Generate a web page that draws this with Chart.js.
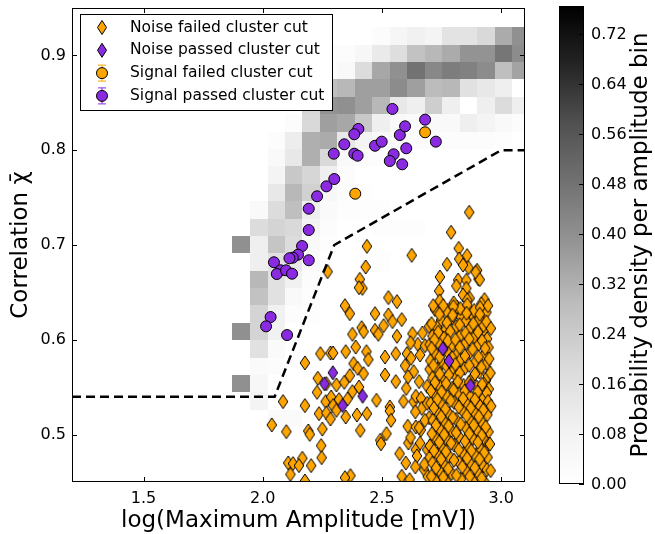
<!DOCTYPE html>
<html>
<head>
<meta charset="utf-8">
<script src="https://cdn.jsdelivr.net/npm/chart.js@4.4.1/dist/chart.umd.min.js"></script>
<style>
  html, body { margin: 0; padding: 0; background: #fff; }
  canvas { display: block; }
</style>
</head>
<body>
<canvas id="chart" width="655" height="534"></canvas>
<script>
// axis ticks
const xTicks = [1.5, 2.0, 2.5, 3.0];
const yTicks = [0.5, 0.6, 0.7, 0.8, 0.9];
const cbTicks = [0, 0.08, 0.16, 0.24, 0.32, 0.40, 0.48, 0.56, 0.64, 0.72];
const cbMax = 0.765;

// signal histogram (probability density per amplitude bin), rows top -> bottom
const histXEdges = [1.873, 1.946, 2.020, 2.093, 2.166, 2.240, 2.313, 2.386, 2.460, 2.533,
  2.606, 2.680, 2.753, 2.826, 2.900, 2.973, 3.046, 3.120];
const histYEdges = [0.9296, 0.9113, 0.8929, 0.8746, 0.8563, 0.8379, 0.8196, 0.8013, 0.7829,
  0.7646, 0.7463, 0.7279, 0.7096, 0.6913, 0.6729, 0.6546, 0.6363, 0.6179, 0.5996, 0.5813,
  0.5629, 0.5446, 0.5263, 0.5079];
const histDensity = [
  [0, 0, 0, 0, 0, 0, 0, 0, 0.02, 0.06, 0.09, 0.07, 0.15, 0.15, 0.19, 0.33, 0.40],
  [0, 0, 0, 0, 0, 0.02, 0.02, 0.05, 0.12, 0.17, 0.27, 0.30, 0.33, 0.39, 0.39, 0.47, 0.41],
  [0, 0, 0, 0, 0.01, 0.02, 0.04, 0.18, 0.34, 0.40, 0.48, 0.42, 0.45, 0.44, 0.41, 0.28, 0.35],
  [0, 0, 0, 0, 0.10, 0.28, 0.30, 0.36, 0.36, 0.41, 0.36, 0.29, 0.30, 0.16, 0.13, 0.10, 0],
  [0, 0, 0, 0, 0.20, 0.39, 0.40, 0.36, 0.30, 0.13, 0.10, 0.23, 0.10, 0, 0.10, 0.18, 0.10],
  [0, 0, 0, 0.02, 0.19, 0.36, 0.34, 0.25, 0.10, 0.04, 0.03, 0.04, 0.04, 0.10, 0.07, 0.04, 0.02],
  [0, 0, 0.02, 0.11, 0.32, 0.33, 0.13, 0.07, 0.04, 0.03, 0.02, 0.02, 0.02, 0.02, 0.02, 0.01, 0],
  [0, 0, 0.04, 0.13, 0.32, 0.19, 0.04, 0.02, 0.02, 0.01, 0, 0, 0, 0, 0, 0, 0],
  [0, 0, 0.07, 0.25, 0.20, 0.10, 0.02, 0, 0, 0, 0, 0, 0, 0, 0, 0, 0],
  [0, 0, 0.13, 0.30, 0.22, 0.05, 0.02, 0.01, 0, 0, 0, 0, 0, 0, 0, 0, 0],
  [0, 0.04, 0.18, 0.28, 0.10, 0.03, 0.01, 0.01, 0.01, 0, 0, 0, 0, 0, 0, 0, 0],
  [0, 0.18, 0.21, 0.19, 0.07, 0.02, 0, 0, 0.01, 0.01, 0.01, 0, 0, 0, 0, 0, 0],
  [0.40, 0.10, 0.26, 0.18, 0.04, 0.01, 0, 0, 0, 0, 0, 0, 0, 0, 0, 0, 0],
  [0, 0.10, 0.16, 0.13, 0.03, 0, 0, 0.01, 0.01, 0, 0, 0, 0, 0, 0, 0, 0],
  [0, 0.30, 0.16, 0.09, 0.02, 0, 0, 0, 0, 0, 0, 0, 0, 0, 0, 0, 0],
  [0, 0.27, 0.16, 0.04, 0.01, 0, 0, 0, 0, 0, 0, 0, 0, 0, 0, 0, 0],
  [0, 0.21, 0.09, 0.02, 0.01, 0, 0, 0, 0, 0, 0, 0, 0, 0, 0, 0, 0],
  [0.40, 0.21, 0.09, 0, 0, 0, 0, 0, 0, 0, 0, 0, 0, 0, 0, 0, 0],
  [0, 0.16, 0.03, 0, 0, 0, 0, 0, 0, 0, 0, 0, 0, 0, 0, 0, 0],
  [0, 0.03, 0.02, 0, 0, 0, 0, 0, 0, 0, 0, 0, 0, 0, 0, 0, 0],
  [0.40, 0.05, 0, 0, 0, 0, 0, 0, 0, 0, 0, 0, 0, 0, 0, 0, 0],
  [0, 0.07, 0, 0, 0, 0, 0, 0, 0, 0, 0, 0, 0, 0, 0, 0, 0],
  [0, 0, 0.03, 0.03, 0, 0, 0, 0, 0, 0, 0, 0, 0, 0, 0, 0, 0]
];

// cluster cut boundary
const cutX = [1.2, 2.05, 2.3, 3.0, 3.1];
const cutY = [0.54, 0.54, 0.70, 0.80, 0.80];

// events [log amplitude, correlation]
const signalPassed = [
  [2.544, 0.8435], [2.401, 0.8224], [2.384, 0.8168], [2.342, 0.8062], [2.298, 0.7963],
  [2.384, 0.7963], [2.398, 0.7942], [2.471, 0.8047], [2.499, 0.8090], [2.575, 0.8160],
  [2.597, 0.8252], [2.681, 0.8322], [2.726, 0.8090], [2.602, 0.8020], [2.549, 0.7957],
  [2.533, 0.7886], [2.585, 0.7851], [2.300, 0.7696], [2.267, 0.7619], [2.228, 0.7514],
  [2.193, 0.7383], [2.193, 0.7158], [2.165, 0.6989], [2.148, 0.6898], [2.126, 0.6866],
  [2.112, 0.6860], [2.193, 0.6839], [2.047, 0.6818], [2.075, 0.6733], [2.059, 0.6694],
  [2.098, 0.6733], [2.123, 0.6697], [2.033, 0.6240], [2.014, 0.6142], [2.102, 0.6050]
];
const signalFailed = [[2.681, 0.8189], [2.388, 0.7541]];
const noisePassed = [
  [2.294, 0.5653], [2.259, 0.5536], [2.335, 0.5307], [2.419, 0.5405],
  [2.755, 0.5906], [2.781, 0.5776], [2.871, 0.5516]
];
const noiseFailedSparse = [
  [2.437, 0.6986], [2.625, 0.6891], [2.432, 0.6768], [2.272, 0.6719], [2.407, 0.6638],
  [2.418, 0.6543], [2.404, 0.6550], [2.527, 0.6445], [2.563, 0.6403], [2.345, 0.6360],
  [2.365, 0.6276], [2.471, 0.6276], [2.527, 0.6262], [2.583, 0.6213], [2.507, 0.6149],
  [2.544, 0.6192], [2.471, 0.6100], [2.485, 0.6058], [2.415, 0.6128], [2.376, 0.6058],
  [2.423, 0.6086], [2.563, 0.6037], [2.628, 0.6065], [2.390, 0.5924], [2.435, 0.5875],
  [2.348, 0.5875], [2.242, 0.5854], [2.284, 0.5861], [2.295, 0.5861], [2.177, 0.5756],
  [2.513, 0.5819], [2.558, 0.5854], [2.605, 0.5854], [2.622, 0.5805], [2.381, 0.5749],
  [2.398, 0.5699], [2.423, 0.5643], [2.443, 0.5791], [2.513, 0.5629], [2.558, 0.5559],
  [2.597, 0.5727], [2.633, 0.5664], [2.231, 0.5594], [2.228, 0.5446], [2.267, 0.5538],
  [2.309, 0.5524], [2.342, 0.5552], [2.365, 0.5622], [2.376, 0.5453], [2.404, 0.5502],
  [2.264, 0.5348], [2.287, 0.5397], [2.320, 0.5369], [2.356, 0.5376], [2.477, 0.5362],
  [2.533, 0.5292], [2.533, 0.5249], [2.633, 0.5348], [2.642, 0.5404], [2.085, 0.5348],
  [2.177, 0.5306], [2.236, 0.5221], [2.267, 0.5228], [2.295, 0.5306], [2.284, 0.5165],
  [2.250, 0.5059], [2.309, 0.5256], [2.348, 0.5186], [2.395, 0.5207], [2.437, 0.5221],
  [2.538, 0.5151], [2.608, 0.5088], [2.642, 0.5081], [2.038, 0.5102], [2.099, 0.5031],
  [2.191, 0.5038], [2.197, 0.5003], [2.409, 0.5045], [2.493, 0.4940], [2.519, 0.5010],
  [2.245, 0.4884], [2.574, 0.4799], [2.611, 0.4912], [2.642, 0.4841], [2.247, 0.4757],
  [2.166, 0.4750], [2.107, 0.4701], [2.127, 0.4694], [2.203, 0.4673], [2.152, 0.4673],
  [2.116, 0.4581], [2.368, 0.4567], [2.345, 0.4546], [2.177, 0.4511], [2.583, 0.4560],
  [2.616, 0.4525], [2.677, 0.4630], [2.692, 0.4557], [2.647, 0.4775], [2.663, 0.5049],
  [2.496, 0.4903], [2.650, 0.5952], [2.681, 0.5938], [2.602, 0.5488], [2.656, 0.5559],
  [2.664, 0.5383], [2.656, 0.5073], [2.678, 0.4687], [2.714, 0.4926], [2.670, 0.6072],
  [2.698, 0.6142], [2.690, 0.4841], [2.698, 0.5179], [2.667, 0.5277],
  [2.620, 0.5970], [2.660, 0.5840], [2.700, 0.5690], [2.610, 0.5610], [2.690, 0.5510],
  [2.640, 0.5240], [2.690, 0.5330], [2.620, 0.4970], [2.660, 0.4910], [2.700, 0.4760],
  [2.640, 0.4660], [2.600, 0.4700], [2.680, 0.5150], [2.700, 0.5950], [2.590, 0.5350]
];
const noiseFailedUpper = [
  [2.866, 0.7345], [2.790, 0.7134], [2.822, 0.6965], [2.857, 0.6888], [2.773, 0.6796],
  [2.743, 0.6663], [2.740, 0.6515], [2.824, 0.6853], [2.863, 0.6761], [2.905, 0.6642],
  [2.899, 0.6733], [2.930, 0.6424], [2.930, 0.6276], [2.925, 0.6093], [2.840, 0.6789],
  [2.893, 0.6712], [2.910, 0.6635], [2.820, 0.6631], [2.812, 0.6568], [2.854, 0.6628],
  [2.854, 0.6543], [2.840, 0.6473], [2.868, 0.6438], [2.899, 0.6276], [2.776, 0.6311],
  [2.790, 0.6241], [2.815, 0.6346], [2.832, 0.6241], [2.860, 0.6332], [2.885, 0.6241]
];
const noiseFailedCore = [
  [2.742, 0.641], [2.801, 0.639], [2.858, 0.642], [2.917, 0.638],
  [2.722, 0.632], [2.771, 0.630], [2.829, 0.633], [2.887, 0.631], [2.938, 0.629],
  [2.748, 0.621], [2.793, 0.623], [2.852, 0.620], [2.908, 0.622],
  [2.731, 0.613], [2.768, 0.611], [2.812, 0.614], [2.869, 0.612], [2.926, 0.615],
  [2.712, 0.604], [2.759, 0.602], [2.830, 0.605], [2.888, 0.603], [2.941, 0.601],
  [2.739, 0.596], [2.792, 0.594], [2.851, 0.597], [2.905, 0.595], [2.947, 0.592],
  [2.721, 0.586], [2.772, 0.588], [2.815, 0.585], [2.870, 0.587], [2.928, 0.584],
  [2.703, 0.578], [2.752, 0.576], [2.829, 0.579], [2.892, 0.577], [2.938, 0.575],
  [2.733, 0.569], [2.791, 0.567], [2.848, 0.570], [2.909, 0.566],
  [2.712, 0.560], [2.762, 0.558], [2.812, 0.561], [2.877, 0.559], [2.936, 0.557],
  [2.741, 0.551], [2.795, 0.549], [2.842, 0.552], [2.899, 0.550], [2.948, 0.548],
  [2.722, 0.542], [2.773, 0.540], [2.822, 0.543], [2.868, 0.541], [2.927, 0.539],
  [2.704, 0.533], [2.751, 0.531], [2.802, 0.534], [2.857, 0.532], [2.911, 0.530],
  [2.733, 0.524], [2.781, 0.522], [2.838, 0.525], [2.889, 0.523], [2.942, 0.521],
  [2.713, 0.515], [2.762, 0.513], [2.811, 0.516], [2.872, 0.514], [2.921, 0.512],
  [2.742, 0.506], [2.793, 0.504], [2.851, 0.507], [2.898, 0.505], [2.947, 0.503],
  [2.724, 0.497], [2.772, 0.495], [2.823, 0.498], [2.881, 0.496], [2.932, 0.494],
  [2.701, 0.488], [2.752, 0.486], [2.803, 0.489], [2.862, 0.487], [2.913, 0.485],
  [2.734, 0.479], [2.783, 0.477], [2.841, 0.480], [2.892, 0.478], [2.943, 0.476],
  [2.712, 0.470], [2.761, 0.468], [2.822, 0.471], [2.871, 0.469], [2.924, 0.467],
  [2.743, 0.461], [2.792, 0.459], [2.852, 0.462], [2.903, 0.460],
  [2.723, 0.452], [2.772, 0.450], [2.831, 0.453], [2.882, 0.451], [2.934, 0.449]
];
const noiseFailedCoreFill = [
  [2.715, 0.636], [2.757, 0.636], [2.800, 0.635], [2.858, 0.637], [2.912, 0.634], [2.945, 0.636],
  [2.741, 0.627], [2.796, 0.626], [2.855, 0.628], [2.910, 0.627],
  [2.708, 0.617], [2.772, 0.618], [2.826, 0.616], [2.883, 0.617], [2.938, 0.619],
  [2.736, 0.608], [2.786, 0.609], [2.850, 0.607], [2.903, 0.608],
  [2.720, 0.600], [2.776, 0.599], [2.808, 0.600], [2.866, 0.601], [2.920, 0.599],
  [2.708, 0.591], [2.757, 0.590], [2.826, 0.592], [2.880, 0.590], [2.933, 0.591],
  [2.742, 0.582], [2.795, 0.581], [2.848, 0.583], [2.905, 0.582], [2.950, 0.580],
  [2.716, 0.573], [2.771, 0.572], [2.808, 0.574], [2.866, 0.573], [2.917, 0.571],
  [2.742, 0.564], [2.780, 0.563], [2.826, 0.565], [2.890, 0.564], [2.945, 0.562],
  [2.722, 0.555], [2.769, 0.554], [2.818, 0.556], [2.866, 0.555], [2.920, 0.553],
  [2.705, 0.546], [2.750, 0.545], [2.800, 0.547], [2.847, 0.546], [2.901, 0.545], [2.940, 0.544],
  [2.732, 0.537], [2.788, 0.536], [2.840, 0.538], [2.890, 0.537], [2.945, 0.535],
  [2.718, 0.528], [2.766, 0.527], [2.822, 0.529], [2.872, 0.528], [2.925, 0.526],
  [2.748, 0.519], [2.797, 0.518], [2.855, 0.520], [2.906, 0.519],
  [2.726, 0.510], [2.779, 0.509], [2.830, 0.511], [2.885, 0.510], [2.935, 0.508],
  [2.709, 0.501], [2.761, 0.500], [2.811, 0.502], [2.866, 0.501], [2.918, 0.499],
  [2.740, 0.492], [2.790, 0.491], [2.848, 0.493], [2.902, 0.492], [2.947, 0.490],
  [2.718, 0.483], [2.768, 0.482], [2.822, 0.484], [2.875, 0.483], [2.929, 0.481],
  [2.748, 0.474], [2.802, 0.473], [2.857, 0.475], [2.909, 0.474],
  [2.727, 0.465], [2.778, 0.464], [2.837, 0.466], [2.889, 0.465], [2.940, 0.463],
  [2.707, 0.456], [2.757, 0.455], [2.812, 0.457], [2.868, 0.456], [2.918, 0.454],
  [2.957, 0.612], [2.955, 0.565], [2.958, 0.530], [2.953, 0.490], [2.956, 0.462]
];

const ORANGE = '#ffa500';
const PURPLE = '#8a2be2';
const FONT = 'DejaVu Sans';

Chart.defaults.font.family = FONT;
Chart.defaults.color = '#000';

const greyStops = [255, 240, 217, 189, 150, 115, 82, 37, 0];
function greys(t) {
  t = Math.max(0, Math.min(1, t));
  const p = t * 8;
  const i = Math.min(7, Math.floor(p));
  const g = Math.round(greyStops[i] + (greyStops[i + 1] - greyStops[i]) * (p - i));
  return `rgb(${g},${g},${g})`;
}

function diamondPath(ctx, cx, cy, hw, hh) {
  ctx.beginPath();
  ctx.moveTo(cx, cy - hh);
  ctx.lineTo(cx + hw, cy);
  ctx.lineTo(cx, cy + hh);
  ctx.lineTo(cx - hw, cy);
  ctx.closePath();
}

function makeDiamond(fill) {
  const c = document.createElement('canvas');
  c.width = 12;
  c.height = 16;
  const g = c.getContext('2d');
  diamondPath(g, 6, 8, 4.8, 7);
  g.fillStyle = fill;
  g.fill();
  g.lineWidth = 1;
  g.strokeStyle = '#000';
  g.stroke();
  return c;
}

const toXY = pts => pts.map(([x, y]) => ({ x, y }));

const histPlugin = {
  id: 'hist',
  beforeDatasetsDraw(chart) {
    const { ctx, chartArea: a, scales: { x, y } } = chart;
    ctx.save();
    ctx.beginPath();
    ctx.rect(a.left, a.top, a.right - a.left, a.bottom - a.top);
    ctx.clip();
    histDensity.forEach((row, r) => {
      row.forEach((v, c) => {
        if (!v) return;
        const x0 = Math.round(x.getPixelForValue(histXEdges[c]));
        const x1 = Math.round(x.getPixelForValue(histXEdges[c + 1]));
        const y0 = Math.round(y.getPixelForValue(histYEdges[r]));
        const y1 = Math.round(y.getPixelForValue(histYEdges[r + 1]));
        ctx.fillStyle = greys(v / cbMax);
        ctx.fillRect(x0, y0, x1 - x0, y1 - y0);
      });
    });
    ctx.restore();
  }
};

const framePlugin = {
  id: 'frame',
  afterDatasetsDraw(chart) {
    const { ctx, chartArea: a, scales: { x, y } } = chart;
    ctx.save();
    ctx.strokeStyle = '#000';
    ctx.lineWidth = 1;
    ctx.beginPath();
    xTicks.forEach(v => {
      const px = Math.round(x.getPixelForValue(v)) + 0.5;
      ctx.moveTo(px, a.bottom); ctx.lineTo(px, a.bottom - 5);
      ctx.moveTo(px, a.top); ctx.lineTo(px, a.top + 5);
    });
    yTicks.forEach(v => {
      const py = Math.round(y.getPixelForValue(v)) + 0.5;
      ctx.moveTo(a.left, py); ctx.lineTo(a.left + 5, py);
      ctx.moveTo(a.right, py); ctx.lineTo(a.right - 5, py);
    });
    ctx.stroke();
    ctx.strokeRect(a.left + 0.5, a.top + 0.5, a.right - a.left - 1, a.bottom - a.top - 1);
    ctx.restore();
  }
};

const legendItems = [
  { text: 'Noise failed cluster cut', color: ORANGE, kind: 'diamond' },
  { text: 'Noise passed cluster cut', color: PURPLE, kind: 'diamond' },
  { text: 'Signal failed cluster cut', color: ORANGE, kind: 'circle' },
  { text: 'Signal passed cluster cut', color: PURPLE, kind: 'circle' }
];

const legendPlugin = {
  id: 'boxLegend',
  afterDraw(chart) {
    const ctx = chart.ctx;
    ctx.save();
    ctx.fillStyle = '#fff';
    ctx.fillRect(80, 14, 252, 96);
    ctx.strokeStyle = '#000';
    ctx.lineWidth = 1;
    ctx.strokeRect(80.5, 14.5, 252, 96);
    legendItems.forEach((it, i) => {
      const cy = 27.5 + i * 22.8;
      const cx = 102;
      if (it.kind === 'diamond') {
        diamondPath(ctx, cx, cy, 4.5, 7);
        ctx.fillStyle = it.color;
        ctx.fill();
        ctx.strokeStyle = '#000';
        ctx.stroke();
      } else {
        ctx.strokeStyle = it.color;
        ctx.beginPath();
        ctx.moveTo(cx, cy - 8); ctx.lineTo(cx, cy + 8);
        ctx.moveTo(cx - 4, cy - 8); ctx.lineTo(cx + 4, cy - 8);
        ctx.moveTo(cx - 4, cy + 8); ctx.lineTo(cx + 4, cy + 8);
        ctx.stroke();
        ctx.beginPath();
        ctx.arc(cx, cy, 5.5, 0, Math.PI * 2);
        ctx.fillStyle = it.color;
        ctx.fill();
        ctx.strokeStyle = '#000';
        ctx.stroke();
      }
      ctx.fillStyle = '#000';
      ctx.font = `15.5px "${FONT}"`;
      ctx.textAlign = 'left';
      ctx.textBaseline = 'middle';
      ctx.fillText(it.text, 130, cy);
    });
    ctx.restore();
  }
};

const colorbarPlugin = {
  id: 'colorbar',
  afterDraw(chart) {
    const ctx = chart.ctx;
    const bx = 559, by = 6, bw = 25, bh = 478;
    ctx.save();
    const grad = ctx.createLinearGradient(0, by + bh, 0, by);
    for (let k = 0; k <= 32; k++) grad.addColorStop(k / 32, greys(k / 32));
    ctx.fillStyle = grad;
    ctx.fillRect(bx, by, bw, bh);
    ctx.strokeStyle = '#000';
    ctx.lineWidth = 1;
    ctx.strokeRect(bx + 0.5, by + 0.5, bw - 1, bh - 1);
    ctx.font = `16px "${FONT}"`;
    ctx.fillStyle = '#000';
    ctx.textAlign = 'left';
    ctx.textBaseline = 'middle';
    cbTicks.forEach(v => {
      const py = Math.round(by + bh - (v / cbMax) * bh) + 0.5;
      ctx.beginPath();
      ctx.moveTo(bx + bw, py); ctx.lineTo(bx + bw - 5, py);
      ctx.stroke();
      ctx.fillText(v.toFixed(2), 591, py);
    });
    ctx.translate(641, by + bh / 2);
    ctx.rotate(-Math.PI / 2);
    ctx.font = `23px "${FONT}"`;
    ctx.textAlign = 'center';
    ctx.fillText('Probability density per amplitude bin', 0, 0);
    ctx.restore();
  }
};

new Chart(document.getElementById('chart'), {
  type: 'scatter',
  data: {
    datasets: [
      {
        label: 'Noise failed cluster cut',
        data: toXY(noiseFailedSparse.concat(noiseFailedUpper, noiseFailedCore, noiseFailedCoreFill)),
        pointStyle: makeDiamond(ORANGE),
        order: 4
      },
      {
        label: 'Noise passed cluster cut',
        data: toXY(noisePassed),
        pointStyle: makeDiamond(PURPLE),
        order: 3
      },
      {
        label: 'Signal failed cluster cut',
        data: toXY(signalFailed),
        pointStyle: 'circle',
        pointRadius: 5.5,
        backgroundColor: ORANGE,
        borderColor: '#000',
        borderWidth: 1,
        order: 2
      },
      {
        label: 'Signal passed cluster cut',
        data: toXY(signalPassed),
        pointStyle: 'circle',
        pointRadius: 5.5,
        backgroundColor: PURPLE,
        borderColor: '#000',
        borderWidth: 1,
        order: 1
      },
      {
        label: 'cut',
        data: cutX.map((x, i) => ({ x, y: cutY[i] })),
        showLine: true,
        borderColor: '#000',
        borderWidth: 2.5,
        borderDash: [9, 5],
        pointRadius: 0,
        order: 0
      }
    ]
  },
  options: {
    responsive: false,
    animation: false,
    devicePixelRatio: 1,
    events: [],
    layout: { padding: { left: 0, right: 130, top: 8, bottom: 0 } },
    plugins: { legend: { display: false }, tooltip: { enabled: false } },
    scales: {
      x: {
        type: 'linear',
        min: 1.2,
        max: 3.1,
        afterBuildTicks: s => { s.ticks = xTicks.map(v => ({ value: v })); },
        afterFit: s => { s.height = 52; s.paddingLeft = 0; s.paddingRight = 0; },
        grid: { display: false, drawTicks: false },
        border: { display: false },
        ticks: { color: '#000', font: { size: 16 }, padding: 7, callback: v => v.toFixed(1) },
        title: {
          display: true,
          text: 'log(Maximum Amplitude [mV])',
          color: '#000',
          font: { size: 23, lineHeight: 1 },
          padding: { top: 0, bottom: 1.5 }
        }
      },
      y: {
        type: 'linear',
        min: 0.45,
        max: 0.95,
        afterBuildTicks: s => { s.ticks = yTicks.map(v => ({ value: v })); },
        afterFit: s => { s.width = 72; s.paddingTop = 0; s.paddingBottom = 0; },
        grid: { display: false, drawTicks: false },
        border: { display: false },
        ticks: { color: '#000', font: { size: 16 }, padding: 6, callback: v => v.toFixed(1) },
        title: {
          display: true,
          text: 'Correlation χ̄',
          color: '#000',
          font: { size: 23, lineHeight: 1 },
          padding: { top: 9.5, bottom: 0 }
        }
      }
    }
  },
  plugins: [histPlugin, framePlugin, legendPlugin, colorbarPlugin]
});
</script>
</body>
</html>
